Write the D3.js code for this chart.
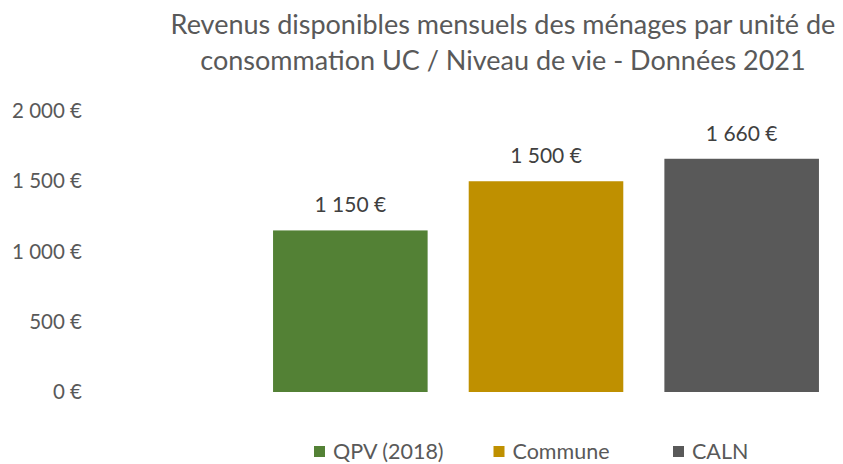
<!DOCTYPE html>
<html>
<head>
<meta charset="utf-8">
<script src="https://cdn.jsdelivr.net/npm/d3@7"></script>
<style>
	body { margin: 0; background: #fff; }
	svg { display: block; font-family: Lato, "Open Sans", sans-serif; }
</style>
</head>
<body>
<div id="chart-area"></div>
<script>
// ** Data **
var categories = ["QPV (2018)", "Commune", "CALN"];
var values = [1150, 1500, 1660];
var colors = ["#538135", "#BF9000", "#595959"];
var yTicks = [0, 500, 1000, 1500, 2000];
var titleLines = ["Revenus disponibles mensuels des ménages par unité de",
	"consommation UC / Niveau de vie - Données 2021"];

var width = 843;
var height = 464;

// format with a space as thousands separator and euro sign
var frLocale = d3.formatLocale({ decimal: ",", thousands: " ", grouping: [3], currency: ["", " €"] });
var formatEuro = function(d){ return frLocale.format(",.0f")(d) + " €"; };

var svg = d3.select("#chart-area")
	.append("svg")
	.attr("width", width)
	.attr("height", height);

// Title
svg.append("text")
	.attr("x", 503)
	.attr("y", 34)
	.attr("text-anchor", "middle")
	.attr("font-size", 27)
	.attr("fill", "#595959")
	.selectAll("tspan")
	.data(titleLines)
	.enter()
	.append("tspan")
		.attr("x", 503)
		.attr("dy", function(d, i){ return i == 0 ? 0 : 36; })
		.text(function(d){ return d; });

// Scales
var x = d3.scaleBand()
	.domain(categories)
	.range([252.5, 839.5])
	.paddingInner(0.21)
	.paddingOuter(0.105);
var y = d3.scaleLinear()
	.domain([0, 2000])
	.range([392, 111]);

// Y Axis (labels only, no line)
var yAxisCall = d3.axisLeft(y)
	.tickValues(yTicks)
	.tickSize(0)
	.tickPadding(0)
	.tickFormat(formatEuro);
var yAxis = svg.append("g")
	.attr("transform", "translate(82, 0)")
	.call(yAxisCall);
yAxis.select(".domain").remove();
yAxis.selectAll("text")
	.attr("font-family", "Lato, 'Open Sans', sans-serif")
	.attr("font-size", 20.5)
	.attr("fill", "#595959");

// Bars
svg.selectAll("rect.bar")
	.data(values)
	.enter()
	.append("rect")
	.attr("class", "bar")
	.attr("x", function(d, i){ return x(categories[i]); })
	.attr("y", function(d){ return y(d); })
	.attr("width", x.bandwidth())
	.attr("height", function(d){ return y(0) - y(d); })
	.attr("fill", function(d, i){ return colors[i]; });

// Value labels
svg.selectAll("text.value")
	.data(values)
	.enter()
	.append("text")
	.attr("class", "value")
	.attr("x", function(d, i){ return x(categories[i]) + x.bandwidth() / 2; })
	.attr("y", function(d){ return y(d) - 18; })
	.attr("text-anchor", "middle")
	.attr("font-size", 21)
	.attr("fill", "#404040")
	.text(formatEuro);

// ** Legend **
var legendStep = 179.5;
var legend = svg.append("g")
	.attr("transform", "translate(314, 446)");

categories.forEach(function(cat, i){
	var legendRow = legend.append("g")
		.attr("transform", "translate(" + (i * legendStep) + ", 0)");

	legendRow.append("rect")
		.attr("width", 11)
		.attr("height", 11)
		.attr("fill", colors[i]);

	legendRow.append("text")
		.attr("x", 19)
		.attr("y", 13)
		.attr("font-size", 21.5)
		.attr("fill", "#595959")
		.text(cat);
});
</script>
</body>
</html>
